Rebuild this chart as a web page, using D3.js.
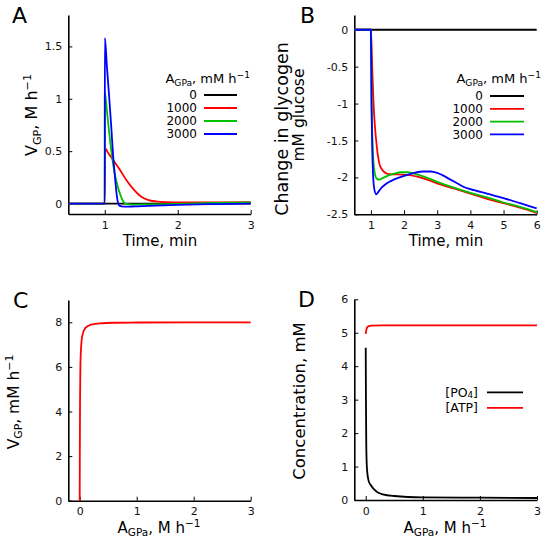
<!DOCTYPE html>
<html>
<head>
<meta charset="utf-8">
<script src="https://cdn.jsdelivr.net/npm/d3@7"></script>
<style>
    body { margin: 0; background: #fff; }
    svg { font-family: 'DejaVu Sans', sans-serif; }
    .axis path, .axis line { stroke: #000; }
    .axis path { stroke-width: 1.6; }
    .axis line { stroke-width: 1; }
    .axis text { font-family: 'DejaVu Sans', sans-serif; font-size: 11px; fill: #111; }
    .series { fill: none; stroke-width: 1.8; stroke-linejoin: round; }
</style>
</head>
<body>
<div id="chart-area"></div>
<script>
// ---- data ----
const agpaLevels = ['0', '1000', '2000', '3000'];
const levelColors = ['#000000', '#ff0000', '#00c000', '#0000ff'];

// A: V_GP (M/h) vs time (min)
const aTicksX = [1, 2, 3];
const aTicksY = [0, 0.5, 1, 1.5];
const aV0 = [[0.5, 0], [3, 0]];
const aV1000 = [[0.5, 0], [1, 0], [1.001, 0.53], [1.04, 0.49], [1.1, 0.43], [1.2, 0.33], [1.3, 0.22],
    [1.4, 0.13], [1.5, 0.065], [1.6, 0.033], [1.7, 0.02], [1.85, 0.012], [2, 0.01], [2.5, 0.01], [3, 0.012]];
const aV2000 = [[0.5, 0], [1, 0], [1.001, 1.06], [1.03, 0.88], [1.06, 0.68], [1.09, 0.5], [1.12, 0.35],
    [1.16, 0.21], [1.22, 0.07], [1.28, 0.0], [1.4, -0.01], [1.6, -0.008], [2, -0.003], [2.5, 0.005], [3, 0.01]];
const aV3000 = [[0.5, 0], [1, 0], [1.001, 1.58], [1.03, 1.3], [1.06, 1.02], [1.09, 0.72], [1.11, 0.5],
    [1.14, 0.25], [1.17, 0.05], [1.2, -0.02], [1.26, -0.03], [1.4, -0.028], [1.6, -0.022], [2, -0.012],
    [2.5, -0.005], [3, 0]];

// B: change in glycogen (mM glucose) vs time (min)
const bTicksX = [1, 2, 3, 4, 5, 6];
const bTicksY = [0, -0.5, -1, -1.5, -2, -2.5];
const bG0 = [[0.5, 0], [6, 0]];
const bG1000 = [[0.5, 0], [1, 0], [1.04, -0.5], [1.08, -1.0], [1.12, -1.3], [1.16, -1.5], [1.21, -1.7],
    [1.26, -1.82], [1.33, -1.89], [1.41, -1.93], [1.55, -1.955], [1.8, -1.96], [2.1, -1.965], [2.4, -1.99],
    [2.7, -2.03], [3, -2.08], [3.5, -2.15], [4, -2.22], [4.5, -2.29], [5, -2.35], [5.5, -2.41], [6, -2.48]];
const bG2000 = [[0.5, 0], [1, 0], [1.02, -1.0], [1.05, -1.5], [1.08, -1.8], [1.12, -1.95], [1.18, -2.02],
    [1.26, -2.03], [1.35, -2.01], [1.5, -1.98], [1.7, -1.95], [1.9, -1.93], [2.1, -1.93], [2.3, -1.95],
    [2.6, -1.99], [3, -2.06], [3.5, -2.14], [4, -2.21], [4.5, -2.27], [5, -2.34], [5.5, -2.40], [6, -2.47]];
const bG3000 = [[0.5, 0], [1, 0], [1.02, -1.0], [1.04, -1.6], [1.07, -2.0], [1.1, -2.15], [1.16, -2.23],
    [1.22, -2.2], [1.3, -2.15], [1.45, -2.09], [1.6, -2.05], [1.8, -2.01], [2, -1.98], [2.3, -1.94],
    [2.6, -1.92], [2.8, -1.92], [3, -1.94], [3.2, -1.98], [3.4, -2.03], [3.6, -2.08], [3.8, -2.13],
    [4, -2.16], [4.5, -2.22], [5, -2.28], [5.5, -2.35], [6, -2.42]];

// C: V_GP (mM/h) vs A_GPa (M/h)
const cTicksX = [0, 1, 2, 3];
const cTicksY = [0, 2, 4, 6, 8];
const cVgp = [[0, 0], [0.002, 2], [0.006, 4.5], [0.012, 6], [0.025, 6.9], [0.05, 7.45], [0.1, 7.75],
    [0.2, 7.9], [0.35, 7.95], [0.6, 7.98], [1, 7.99], [2, 8], [3, 8]];

// D: concentrations (mM) vs A_GPa (M/h)
const dTicksX = [0, 1, 2, 3];
const dTicksY = [0, 1, 2, 3, 4, 5, 6];
const dPO4 = [[0, 4.55], [0.004, 3], [0.01, 1.6], [0.023, 0.9], [0.05, 0.58], [0.09, 0.44], [0.19, 0.25],
    [0.3, 0.17], [0.5, 0.12], [1, 0.08], [2, 0.07], [3, 0.06]];
const dATP = [[0, 4.97], [0.01, 5.08], [0.023, 5.15], [0.045, 5.19], [0.1, 5.21], [0.3, 5.22], [1, 5.22], [3, 5.22]];

// ---- drawing ----
const WIDTH = 550, HEIGHT = 543;

const svg = d3.select('#chart-area').append('svg')
    .attr('width', WIDTH)
    .attr('height', HEIGHT);

// text with sub/superscript pieces; base is an extra vertical offset in px
function richText(sel, parts, size, base) {
    let shift = 0;
    base = base || 0;
    parts.forEach((p, i) => {
        const small = p.sub || p.sup;
        const target = p.sub ? size * (p.lo || 0.22) : p.sup ? -size * 0.4 : 0;
        sel.append('tspan')
            .attr('dy', target - shift + (i === 0 ? base : 0))
            .attr('font-size', small ? size * 0.7 : size)
            .text(p.t);
        shift = target;
    });
    return sel;
}

const agpaParts = [{t: 'A'}, {t: 'GPa', sub: true}];

function panel(cfg) {
    const x = d3.scaleLinear().domain(cfg.xDomain).range([cfg.left, cfg.right]);
    const y = d3.scaleLinear().domain(cfg.yDomain).range([cfg.bottom, cfg.top]);
    const fmt = d => String(d);

    svg.append('g')
        .attr('class', 'axis')
        .attr('transform', `translate(0, ${cfg.bottom})`)
        .call(d3.axisBottom(x).tickValues(cfg.ticksX).tickSizeInner(-4).tickSizeOuter(0)
            .tickPadding(7).tickFormat(fmt));

    svg.append('g')
        .attr('class', 'axis')
        .attr('transform', `translate(${cfg.left}, 0)`)
        .call(d3.axisLeft(y).tickValues(cfg.ticksY).tickSizeInner(-4).tickSizeOuter(0)
            .tickPadding(6).tickFormat(fmt));

    const line = d3.line()
        .x(d => x(d[0]))
        .y(d => y(d[1]))
        .curve(d3.curveMonotoneX);

    cfg.series.forEach(s => {
        svg.append('path')
            .attr('class', 'series')
            .attr('stroke', s.color)
            .attr('d', line(s.data));
    });

    svg.append('text')
        .attr('x', cfg.letter[0])
        .attr('y', cfg.letter[1])
        .attr('font-size', 22)
        .text(cfg.name);

    return {x, y};
}

function legendRows(rows, labelX, lineX0, lineX1, y0, step, size) {
    rows.forEach((r, i) => {
        const yy = y0 + i * step;
        svg.append('text')
            .attr('x', labelX)
            .attr('y', yy)
            .attr('text-anchor', 'end')
            .attr('font-size', size)
            .call(t => richText(t, r.parts, size, size * 0.36));
        svg.append('line')
            .attr('x1', lineX0).attr('x2', lineX1)
            .attr('y1', yy).attr('y2', yy)
            .attr('stroke', r.color)
            .attr('stroke-width', 1.8);
    });
}

// Panel A
panel({
    name: 'A', letter: [12, 23],
    left: 68.3, right: 250.7, top: 15, bottom: 214,
    xDomain: [0.5, 3], yDomain: [-0.1, 1.8],
    ticksX: aTicksX, ticksY: aTicksY,
    series: [aV0, aV1000, aV2000, aV3000].map((d, i) => ({data: d, color: levelColors[i]}))
});
svg.append('text').attr('x', 160).attr('y', 246).attr('text-anchor', 'middle')
    .call(t => richText(t, [{t: 'Time, min'}], 15));
svg.append('text').attr('transform', 'translate(37, 115) rotate(-90)').attr('text-anchor', 'middle')
    .call(t => richText(t, [{t: 'V'}, {t: 'GP', sub: true}, {t: ', M h'}, {t: '\u22121', sup: true}], 16));
svg.append('text').attr('x', 250).attr('y', 83).attr('text-anchor', 'end')
    .call(t => richText(t, agpaParts.concat([{t: ', mM h'}, {t: '\u22121', sup: true}]), 13));
legendRows(agpaLevels.map((l, i) => ({parts: [{t: l}], color: levelColors[i]})),
    197, 204, 237, 95, 13, 12);

// Panel B
panel({
    name: 'B', letter: [300, 23],
    left: 354.3, right: 536.7, top: 15, bottom: 214.3,
    xDomain: [0.5, 6], yDomain: [-2.5, 0.2],
    ticksX: bTicksX, ticksY: bTicksY,
    series: [bG0, bG1000, bG2000, bG3000].map((d, i) => ({data: d, color: levelColors[i]}))
});
svg.append('text').attr('x', 446).attr('y', 246).attr('text-anchor', 'middle')
    .call(t => richText(t, [{t: 'Time, min'}], 15));
svg.append('text').attr('transform', 'translate(288, 129) rotate(-90)').attr('text-anchor', 'middle')
    .call(t => richText(t, [{t: 'Change in glycogen'}], 17.5));
svg.append('text').attr('transform', 'translate(304, 115) rotate(-90)').attr('text-anchor', 'middle')
    .call(t => richText(t, [{t: 'mM glucose'}], 15.5));
svg.append('text').attr('x', 541).attr('y', 83).attr('text-anchor', 'end')
    .call(t => richText(t, agpaParts.concat([{t: ', mM h'}, {t: '\u22121', sup: true}]), 13));
legendRows(agpaLevels.map((l, i) => ({parts: [{t: l}], color: levelColors[i]})),
    483, 490, 524, 96, 12.8, 12);

// Panel C
panel({
    name: 'C', letter: [13, 308],
    left: 68.3, right: 250.7, top: 300, bottom: 500.7,
    xDomain: [-0.2, 3], yDomain: [0, 9],
    ticksX: cTicksX, ticksY: cTicksY,
    series: [{data: cVgp, color: '#ff0000'}]
});
svg.append('text').attr('x', 159).attr('y', 533).attr('text-anchor', 'middle')
    .call(t => richText(t, agpaParts.concat([{t: ', M h'}, {t: '\u22121', sup: true}]), 15));
svg.append('text').attr('transform', 'translate(19, 402) rotate(-90)').attr('text-anchor', 'middle')
    .call(t => richText(t, [{t: 'V'}, {t: 'GP', sub: true}, {t: ', mM h'}, {t: '\u22121', sup: true}], 15.5));

// Panel D
panel({
    name: 'D', letter: [298, 307],
    left: 354.3, right: 537, top: 299.3, bottom: 500,
    xDomain: [-0.2, 3], yDomain: [0, 6],
    ticksX: dTicksX, ticksY: dTicksY,
    series: [{data: dPO4, color: '#000000'}, {data: dATP, color: '#ff0000'}]
});
svg.append('text').attr('x', 445).attr('y', 533).attr('text-anchor', 'middle')
    .call(t => richText(t, agpaParts.concat([{t: ', M h'}, {t: '\u22121', sup: true}]), 15));
svg.append('text').attr('transform', 'translate(305, 401) rotate(-90)').attr('text-anchor', 'middle')
    .call(t => richText(t, [{t: 'Concentration, mM'}], 16.5));
legendRows([
    {parts: [{t: '[PO'}, {t: '4', sub: true, lo: 0.12}, {t: ']'}], color: '#000000'},
    {parts: [{t: '[ATP]'}], color: '#ff0000'}
], 478, 487, 523, 392.3, 15.6, 12.5);
</script>
</body>
</html>
